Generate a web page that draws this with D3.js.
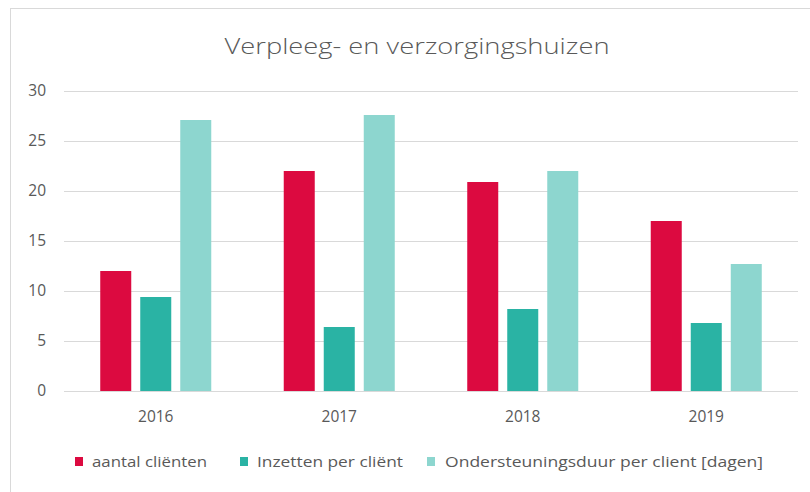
<!DOCTYPE html>
<html><head><meta charset="utf-8">
<script src="https://cdn.jsdelivr.net/npm/d3@7"></script>
<style>body{margin:0;background:#fff}svg{display:block}</style>
</head><body>
<script>
const title = "Verpleeg- en verzorgingshuizen";
const years = ["2016","2017","2018","2019"];
const seriesNames = ["aantal cliënten","Inzetten per cliënt","Ondersteuningsduur per client [dagen]"];
const aantalClienten = [12, 22, 20.9, 17];
const inzettenPerClient = [9.4, 6.4, 8.2, 6.8];
const ondersteuningsduur = [27.1, 27.6, 22, 12.7];
const yTicks = [0,5,10,15,20,25,30];
const colors = ["#dc0a40","#2ab3a4","#8dd6cf"];

const W=810,H=492;
const svg=d3.select("body").append("svg").attr("width",W).attr("height",H);
svg.append("rect").attr("x",10.5).attr("y",8.5).attr("width",W).attr("height",H).attr("fill","#fff").attr("stroke","#d9d9d9");

const m={l:64,r:798,t:91,b:391};
const y=d3.scaleLinear().domain([0,30]).range([m.b,m.t]);
const x0=d3.scaleBand().domain(years).range([m.l,m.r]).paddingInner(0.395).paddingOuter(0.1975);
const x1=d3.scaleBand().domain(d3.range(3)).range([0,x0.bandwidth()]).paddingInner(0.225);

const font="'Open Sans', sans-serif";
const yAxis=svg.append("g").attr("transform",`translate(${m.l},0)`)
  .call(d3.axisLeft(y).tickValues(yTicks).tickSize(-(m.r-m.l)).tickPadding(18));
yAxis.select(".domain").remove();
yAxis.selectAll(".tick line").attr("stroke","#d9d9d9").attr("stroke-width",1);
yAxis.selectAll(".tick text").attr("fill","#595959").style("font-family",font).style("font-size","15.5px");

const data=[aantalClienten,inzettenPerClient,ondersteuningsduur];
const g=svg.append("g");
years.forEach((yr,i)=>{
  data.forEach((s,j)=>{
    g.append("rect").attr("x",x0(yr)+x1(j)).attr("width",x1.bandwidth())
     .attr("y",y(s[i])).attr("height",y(0)-y(s[i])).attr("fill",colors[j]);
  });
});

const xAxis=svg.append("g").attr("transform",`translate(0,${m.b})`)
  .call(d3.axisBottom(x0).tickSize(0).tickPadding(20));
xAxis.select(".domain").remove();
xAxis.selectAll(".tick text").attr("fill","#595959").style("font-family",font).style("font-size","15.5px");

svg.append("text").attr("x",417).attr("y",54).attr("text-anchor","middle")
  .attr("fill","#595959").style("font-family",font).style("font-weight",300).style("font-size","22px")
  .attr("textLength",385).attr("lengthAdjust","spacingAndGlyphs").text(title);

const legX=[75,240,427], legGap=[17,17,18], legTextW=[115,146,318];
const leg=svg.append("g");
seriesNames.forEach((n,j)=>{
  leg.append("rect").attr("x",legX[j]).attr("y",457).attr("width",8).attr("height",9).attr("fill",colors[j]);
  leg.append("text").attr("x",legX[j]+legGap[j]).attr("y",467).attr("fill","#595959")
    .style("font-family",font).style("font-size","14px")
    .attr("textLength",legTextW[j]).attr("lengthAdjust","spacingAndGlyphs").text(n);
});
</script>
</body></html>
